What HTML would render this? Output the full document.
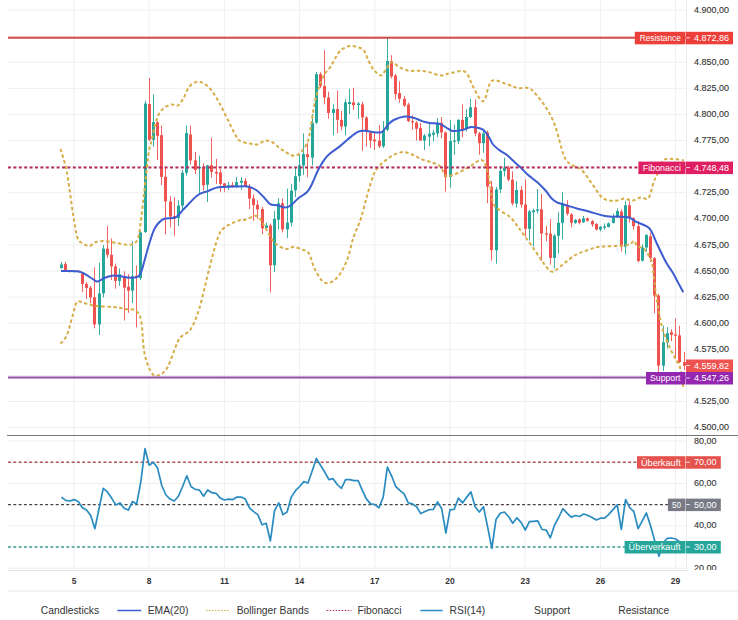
<!DOCTYPE html><html><head><meta charset="utf-8"><style>html,body{margin:0;padding:0;background:#fff;width:738px;height:620px;overflow:hidden}svg{display:block;font-family:"Liberation Sans",sans-serif}</style></head><body>
<svg width="738" height="620" viewBox="0 0 738 620">
<defs><clipPath id="pc"><rect x="8" y="0" width="678" height="435"/></clipPath><clipPath id="rc"><rect x="8" y="436" width="678" height="134"/></clipPath><clipPath id="rac"><rect x="686" y="436" width="52" height="134"/></clipPath></defs>
<line x1="74.0" y1="0" x2="74.0" y2="569" stroke="#efefef" stroke-width="1"/>
<line x1="149.2" y1="0" x2="149.2" y2="569" stroke="#efefef" stroke-width="1"/>
<line x1="224.4" y1="0" x2="224.4" y2="569" stroke="#efefef" stroke-width="1"/>
<line x1="299.6" y1="0" x2="299.6" y2="569" stroke="#efefef" stroke-width="1"/>
<line x1="374.8" y1="0" x2="374.8" y2="569" stroke="#efefef" stroke-width="1"/>
<line x1="450.0" y1="0" x2="450.0" y2="569" stroke="#efefef" stroke-width="1"/>
<line x1="525.2" y1="0" x2="525.2" y2="569" stroke="#efefef" stroke-width="1"/>
<line x1="600.4" y1="0" x2="600.4" y2="569" stroke="#efefef" stroke-width="1"/>
<line x1="675.6" y1="0" x2="675.6" y2="569" stroke="#efefef" stroke-width="1"/>
<line x1="8" y1="427.6" x2="686" y2="427.6" stroke="#efefef" stroke-width="1"/>
<line x1="8" y1="401.5" x2="686" y2="401.5" stroke="#efefef" stroke-width="1"/>
<line x1="8" y1="375.4" x2="686" y2="375.4" stroke="#efefef" stroke-width="1"/>
<line x1="8" y1="349.3" x2="686" y2="349.3" stroke="#efefef" stroke-width="1"/>
<line x1="8" y1="323.2" x2="686" y2="323.2" stroke="#efefef" stroke-width="1"/>
<line x1="8" y1="297.1" x2="686" y2="297.1" stroke="#efefef" stroke-width="1"/>
<line x1="8" y1="271.0" x2="686" y2="271.0" stroke="#efefef" stroke-width="1"/>
<line x1="8" y1="244.9" x2="686" y2="244.9" stroke="#efefef" stroke-width="1"/>
<line x1="8" y1="218.8" x2="686" y2="218.8" stroke="#efefef" stroke-width="1"/>
<line x1="8" y1="192.7" x2="686" y2="192.7" stroke="#efefef" stroke-width="1"/>
<line x1="8" y1="166.6" x2="686" y2="166.6" stroke="#efefef" stroke-width="1"/>
<line x1="8" y1="140.5" x2="686" y2="140.5" stroke="#efefef" stroke-width="1"/>
<line x1="8" y1="114.4" x2="686" y2="114.4" stroke="#efefef" stroke-width="1"/>
<line x1="8" y1="88.3" x2="686" y2="88.3" stroke="#efefef" stroke-width="1"/>
<line x1="8" y1="62.2" x2="686" y2="62.2" stroke="#efefef" stroke-width="1"/>
<line x1="8" y1="36.1" x2="686" y2="36.1" stroke="#efefef" stroke-width="1"/>
<line x1="8" y1="10.0" x2="686" y2="10.0" stroke="#efefef" stroke-width="1"/>
<line x1="8" y1="441.0" x2="686" y2="441.0" stroke="#efefef" stroke-width="1"/>
<line x1="8" y1="483.4" x2="686" y2="483.4" stroke="#efefef" stroke-width="1"/>
<line x1="8" y1="525.8" x2="686" y2="525.8" stroke="#efefef" stroke-width="1"/>
<line x1="8" y1="568.2" x2="686" y2="568.2" stroke="#efefef" stroke-width="1"/>
<line x1="686.5" y1="0" x2="686.5" y2="570" stroke="#ececec" stroke-width="1"/>
<line x1="7" y1="435.5" x2="738" y2="435.5" stroke="#777" stroke-width="1"/>
<line x1="8" y1="570.5" x2="688" y2="570.5" stroke="#e4e4e4" stroke-width="1"/>
<line x1="8" y1="591" x2="738" y2="591" stroke="#e4e4e4" stroke-width="1"/>
<g clip-path="url(#pc)">
<line x1="61.5" y1="262.0" x2="61.5" y2="268.5" stroke="#26a69a" stroke-width="1" opacity="0.9"/>
<rect x="60" y="264.5" width="3" height="3.6" fill="#26a69a"/>
<line x1="65.5" y1="261.7" x2="65.5" y2="270.5" stroke="#ef5350" stroke-width="1" opacity="0.9"/>
<rect x="64" y="264.1" width="3" height="6.1" fill="#ef5350"/>
<line x1="69.5" y1="270.0" x2="69.5" y2="272.5" stroke="#ef5350" stroke-width="1" opacity="0.9"/>
<rect x="68" y="270.5" width="3" height="1.5" fill="#ef5350"/>
<line x1="74.5" y1="270.5" x2="74.5" y2="272.5" stroke="#26a69a" stroke-width="1" opacity="0.9"/>
<rect x="73" y="270.8" width="3" height="1.2" fill="#26a69a"/>
<line x1="78.5" y1="270.5" x2="78.5" y2="272.5" stroke="#ef5350" stroke-width="1" opacity="0.9"/>
<rect x="77" y="270.8" width="3" height="1.2" fill="#ef5350"/>
<line x1="82.5" y1="273.0" x2="82.5" y2="292.0" stroke="#ef5350" stroke-width="1" opacity="0.9"/>
<rect x="81" y="273.4" width="3" height="10.5" fill="#ef5350"/>
<line x1="86.5" y1="282.0" x2="86.5" y2="299.0" stroke="#ef5350" stroke-width="1" opacity="0.9"/>
<rect x="85" y="283.9" width="3" height="4.0" fill="#ef5350"/>
<line x1="90.5" y1="286.0" x2="90.5" y2="303.2" stroke="#ef5350" stroke-width="1" opacity="0.9"/>
<rect x="89" y="287.7" width="3" height="9.7" fill="#ef5350"/>
<line x1="94.5" y1="267.4" x2="94.5" y2="328.3" stroke="#ef5350" stroke-width="1" opacity="0.9"/>
<rect x="93" y="297.4" width="3" height="27.0" fill="#ef5350"/>
<line x1="99.5" y1="262.6" x2="99.5" y2="335.1" stroke="#26a69a" stroke-width="1" opacity="0.9"/>
<rect x="98" y="293.5" width="3" height="30.9" fill="#26a69a"/>
<line x1="103.5" y1="245.1" x2="103.5" y2="297.4" stroke="#26a69a" stroke-width="1" opacity="0.9"/>
<rect x="102" y="248.6" width="3" height="44.9" fill="#26a69a"/>
<line x1="107.5" y1="225.8" x2="107.5" y2="257.7" stroke="#ef5350" stroke-width="1" opacity="0.9"/>
<rect x="106" y="248.6" width="3" height="6.2" fill="#ef5350"/>
<line x1="111.5" y1="238.4" x2="111.5" y2="280.0" stroke="#ef5350" stroke-width="1" opacity="0.9"/>
<rect x="110" y="254.8" width="3" height="11.6" fill="#ef5350"/>
<line x1="115.5" y1="263.5" x2="115.5" y2="288.7" stroke="#ef5350" stroke-width="1" opacity="0.9"/>
<rect x="114" y="266.4" width="3" height="14.5" fill="#ef5350"/>
<line x1="119.5" y1="268.4" x2="119.5" y2="285.8" stroke="#26a69a" stroke-width="1" opacity="0.9"/>
<rect x="118" y="274.2" width="3" height="6.7" fill="#26a69a"/>
<line x1="124.5" y1="271.3" x2="124.5" y2="320.6" stroke="#ef5350" stroke-width="1" opacity="0.9"/>
<rect x="123" y="276.1" width="3" height="11.6" fill="#ef5350"/>
<line x1="128.5" y1="274.2" x2="128.5" y2="312.8" stroke="#ef5350" stroke-width="1" opacity="0.9"/>
<rect x="127" y="286.7" width="3" height="3.9" fill="#ef5350"/>
<line x1="132.5" y1="241.3" x2="132.5" y2="303.2" stroke="#26a69a" stroke-width="1" opacity="0.9"/>
<rect x="131" y="276.1" width="3" height="14.5" fill="#26a69a"/>
<line x1="136.5" y1="265.5" x2="136.5" y2="327.4" stroke="#ef5350" stroke-width="1" opacity="0.9"/>
<rect x="135" y="275.7" width="3" height="2.3" fill="#ef5350"/>
<line x1="140.5" y1="231.0" x2="140.5" y2="280.0" stroke="#26a69a" stroke-width="1" opacity="0.9"/>
<rect x="139" y="232.4" width="3" height="45.6" fill="#26a69a"/>
<line x1="145.5" y1="100.8" x2="145.5" y2="233.0" stroke="#26a69a" stroke-width="1" opacity="0.9"/>
<rect x="144" y="103.5" width="3" height="128.5" fill="#26a69a"/>
<line x1="149.5" y1="78.0" x2="149.5" y2="141.0" stroke="#ef5350" stroke-width="1" opacity="0.9"/>
<rect x="148" y="104.0" width="3" height="35.8" fill="#ef5350"/>
<line x1="153.5" y1="94.5" x2="153.5" y2="146.7" stroke="#26a69a" stroke-width="1" opacity="0.9"/>
<rect x="152" y="122.0" width="3" height="17.8" fill="#26a69a"/>
<line x1="157.5" y1="121.0" x2="157.5" y2="160.0" stroke="#ef5350" stroke-width="1" opacity="0.9"/>
<rect x="156" y="122.3" width="3" height="13.5" fill="#ef5350"/>
<line x1="161.5" y1="125.5" x2="161.5" y2="185.0" stroke="#ef5350" stroke-width="1" opacity="0.9"/>
<rect x="160" y="135.2" width="3" height="41.6" fill="#ef5350"/>
<line x1="165.5" y1="168.0" x2="165.5" y2="234.4" stroke="#ef5350" stroke-width="1" opacity="0.9"/>
<rect x="164" y="176.8" width="3" height="24.7" fill="#ef5350"/>
<line x1="170.5" y1="196.0" x2="170.5" y2="227.5" stroke="#ef5350" stroke-width="1" opacity="0.9"/>
<rect x="169" y="201.5" width="3" height="15.1" fill="#ef5350"/>
<line x1="174.5" y1="197.4" x2="174.5" y2="235.8" stroke="#ef5350" stroke-width="1" opacity="0.9"/>
<rect x="173" y="216.0" width="3" height="2.5" fill="#ef5350"/>
<line x1="178.5" y1="200.0" x2="178.5" y2="226.0" stroke="#26a69a" stroke-width="1" opacity="0.9"/>
<rect x="177" y="205.6" width="3" height="12.4" fill="#26a69a"/>
<line x1="182.5" y1="170.0" x2="182.5" y2="209.7" stroke="#26a69a" stroke-width="1" opacity="0.9"/>
<rect x="181" y="172.7" width="3" height="32.9" fill="#26a69a"/>
<line x1="186.5" y1="125.5" x2="186.5" y2="175.5" stroke="#26a69a" stroke-width="1" opacity="0.9"/>
<rect x="185" y="133.0" width="3" height="39.7" fill="#26a69a"/>
<line x1="190.5" y1="125.5" x2="190.5" y2="164.5" stroke="#ef5350" stroke-width="1" opacity="0.9"/>
<rect x="189" y="134.4" width="3" height="26.0" fill="#ef5350"/>
<line x1="195.5" y1="152.0" x2="195.5" y2="174.0" stroke="#ef5350" stroke-width="1" opacity="0.9"/>
<rect x="194" y="160.4" width="3" height="9.6" fill="#ef5350"/>
<line x1="199.5" y1="155.6" x2="199.5" y2="193.7" stroke="#26a69a" stroke-width="1" opacity="0.9"/>
<rect x="198" y="167.0" width="3" height="1.5" fill="#26a69a"/>
<line x1="203.5" y1="163.4" x2="203.5" y2="190.5" stroke="#ef5350" stroke-width="1" opacity="0.9"/>
<rect x="202" y="167.3" width="3" height="18.0" fill="#ef5350"/>
<line x1="207.5" y1="165.0" x2="207.5" y2="202.1" stroke="#26a69a" stroke-width="1" opacity="0.9"/>
<rect x="206" y="165.3" width="3" height="19.4" fill="#26a69a"/>
<line x1="211.5" y1="137.6" x2="211.5" y2="177.6" stroke="#ef5350" stroke-width="1" opacity="0.9"/>
<rect x="210" y="165.3" width="3" height="6.5" fill="#ef5350"/>
<line x1="216.5" y1="158.9" x2="216.5" y2="184.0" stroke="#ef5350" stroke-width="1" opacity="0.9"/>
<rect x="215" y="171.8" width="3" height="1.7" fill="#ef5350"/>
<line x1="220.5" y1="169.2" x2="220.5" y2="191.8" stroke="#ef5350" stroke-width="1" opacity="0.9"/>
<rect x="219" y="172.4" width="3" height="11.6" fill="#ef5350"/>
<line x1="224.5" y1="183.0" x2="224.5" y2="191.8" stroke="#ef5350" stroke-width="1" opacity="0.9"/>
<rect x="223" y="183.4" width="3" height="2.6" fill="#ef5350"/>
<line x1="228.5" y1="182.0" x2="228.5" y2="190.0" stroke="#26a69a" stroke-width="1" opacity="0.9"/>
<rect x="227" y="185.3" width="3" height="2.0" fill="#26a69a"/>
<line x1="232.5" y1="182.0" x2="232.5" y2="187.5" stroke="#ef5350" stroke-width="1" opacity="0.9"/>
<rect x="231" y="185.0" width="3" height="1.6" fill="#ef5350"/>
<line x1="236.5" y1="177.0" x2="236.5" y2="187.9" stroke="#26a69a" stroke-width="1" opacity="0.9"/>
<rect x="235" y="182.1" width="3" height="3.9" fill="#26a69a"/>
<line x1="241.5" y1="177.0" x2="241.5" y2="189.8" stroke="#26a69a" stroke-width="1" opacity="0.9"/>
<rect x="240" y="180.8" width="3" height="1.9" fill="#26a69a"/>
<line x1="245.5" y1="178.2" x2="245.5" y2="187.0" stroke="#ef5350" stroke-width="1" opacity="0.9"/>
<rect x="244" y="180.8" width="3" height="5.2" fill="#ef5350"/>
<line x1="249.5" y1="184.0" x2="249.5" y2="209.0" stroke="#ef5350" stroke-width="1" opacity="0.9"/>
<rect x="248" y="186.6" width="3" height="12.0" fill="#ef5350"/>
<line x1="253.5" y1="194.5" x2="253.5" y2="220.7" stroke="#ef5350" stroke-width="1" opacity="0.9"/>
<rect x="252" y="198.3" width="3" height="6.9" fill="#ef5350"/>
<line x1="257.5" y1="200.3" x2="257.5" y2="218.8" stroke="#ef5350" stroke-width="1" opacity="0.9"/>
<rect x="256" y="204.8" width="3" height="4.6" fill="#ef5350"/>
<line x1="262.5" y1="207.0" x2="262.5" y2="234.3" stroke="#ef5350" stroke-width="1" opacity="0.9"/>
<rect x="261" y="209.1" width="3" height="19.3" fill="#ef5350"/>
<line x1="266.5" y1="222.6" x2="266.5" y2="229.4" stroke="#26a69a" stroke-width="1" opacity="0.9"/>
<rect x="265" y="225.5" width="3" height="2.5" fill="#26a69a"/>
<line x1="270.5" y1="223.6" x2="270.5" y2="292.4" stroke="#ef5350" stroke-width="1" opacity="0.9"/>
<rect x="269" y="225.5" width="3" height="39.8" fill="#ef5350"/>
<line x1="274.5" y1="211.0" x2="274.5" y2="272.0" stroke="#26a69a" stroke-width="1" opacity="0.9"/>
<rect x="273" y="218.8" width="3" height="46.5" fill="#26a69a"/>
<line x1="278.5" y1="198.4" x2="278.5" y2="229.4" stroke="#26a69a" stroke-width="1" opacity="0.9"/>
<rect x="277" y="203.3" width="3" height="16.4" fill="#26a69a"/>
<line x1="282.5" y1="198.4" x2="282.5" y2="232.3" stroke="#ef5350" stroke-width="1" opacity="0.9"/>
<rect x="281" y="203.3" width="3" height="26.1" fill="#ef5350"/>
<line x1="287.5" y1="188.7" x2="287.5" y2="238.1" stroke="#26a69a" stroke-width="1" opacity="0.9"/>
<rect x="286" y="222.6" width="3" height="6.8" fill="#26a69a"/>
<line x1="291.5" y1="183.9" x2="291.5" y2="226.5" stroke="#26a69a" stroke-width="1" opacity="0.9"/>
<rect x="290" y="190.7" width="3" height="31.9" fill="#26a69a"/>
<line x1="295.5" y1="167.7" x2="295.5" y2="197.1" stroke="#26a69a" stroke-width="1" opacity="0.9"/>
<rect x="294" y="176.2" width="3" height="14.1" fill="#26a69a"/>
<line x1="299.5" y1="154.2" x2="299.5" y2="181.8" stroke="#26a69a" stroke-width="1" opacity="0.9"/>
<rect x="298" y="165.2" width="3" height="11.0" fill="#26a69a"/>
<line x1="303.5" y1="133.3" x2="303.5" y2="175.1" stroke="#26a69a" stroke-width="1" opacity="0.9"/>
<rect x="302" y="154.0" width="3" height="11.5" fill="#26a69a"/>
<line x1="307.5" y1="143.0" x2="307.5" y2="177.3" stroke="#ef5350" stroke-width="1" opacity="0.9"/>
<rect x="306" y="154.2" width="3" height="2.8" fill="#ef5350"/>
<line x1="312.5" y1="114.0" x2="312.5" y2="165.5" stroke="#26a69a" stroke-width="1" opacity="0.9"/>
<rect x="311" y="122.7" width="3" height="34.9" fill="#26a69a"/>
<line x1="316.5" y1="72.0" x2="316.5" y2="124.0" stroke="#26a69a" stroke-width="1" opacity="0.9"/>
<rect x="315" y="74.2" width="3" height="48.5" fill="#26a69a"/>
<line x1="320.5" y1="72.3" x2="320.5" y2="88.0" stroke="#ef5350" stroke-width="1" opacity="0.9"/>
<rect x="319" y="74.2" width="3" height="11.7" fill="#ef5350"/>
<line x1="324.5" y1="50.0" x2="324.5" y2="104.3" stroke="#ef5350" stroke-width="1" opacity="0.9"/>
<rect x="323" y="85.9" width="3" height="11.6" fill="#ef5350"/>
<line x1="328.5" y1="91.7" x2="328.5" y2="118.8" stroke="#ef5350" stroke-width="1" opacity="0.9"/>
<rect x="327" y="97.5" width="3" height="15.5" fill="#ef5350"/>
<line x1="333.5" y1="104.3" x2="333.5" y2="135.3" stroke="#26a69a" stroke-width="1" opacity="0.9"/>
<rect x="332" y="109.1" width="3" height="3.9" fill="#26a69a"/>
<line x1="337.5" y1="90.7" x2="337.5" y2="133.3" stroke="#ef5350" stroke-width="1" opacity="0.9"/>
<rect x="336" y="109.1" width="3" height="10.7" fill="#ef5350"/>
<line x1="341.5" y1="111.0" x2="341.5" y2="130.0" stroke="#ef5350" stroke-width="1" opacity="0.9"/>
<rect x="340" y="119.8" width="3" height="6.7" fill="#ef5350"/>
<line x1="345.5" y1="99.4" x2="345.5" y2="135.3" stroke="#26a69a" stroke-width="1" opacity="0.9"/>
<rect x="344" y="102.3" width="3" height="24.2" fill="#26a69a"/>
<line x1="349.5" y1="88.8" x2="349.5" y2="114.0" stroke="#26a69a" stroke-width="1" opacity="0.9"/>
<rect x="348" y="102.0" width="3" height="2.0" fill="#26a69a"/>
<line x1="353.5" y1="87.8" x2="353.5" y2="110.0" stroke="#ef5350" stroke-width="1" opacity="0.9"/>
<rect x="352" y="102.3" width="3" height="2.9" fill="#ef5350"/>
<line x1="358.5" y1="102.0" x2="358.5" y2="118.8" stroke="#26a69a" stroke-width="1" opacity="0.9"/>
<rect x="357" y="103.5" width="3" height="1.5" fill="#26a69a"/>
<line x1="362.5" y1="101.7" x2="362.5" y2="150.8" stroke="#ef5350" stroke-width="1" opacity="0.9"/>
<rect x="361" y="104.4" width="3" height="13.1" fill="#ef5350"/>
<line x1="366.5" y1="116.0" x2="366.5" y2="146.5" stroke="#ef5350" stroke-width="1" opacity="0.9"/>
<rect x="365" y="117.5" width="3" height="14.0" fill="#ef5350"/>
<line x1="370.5" y1="131.0" x2="370.5" y2="148.0" stroke="#ef5350" stroke-width="1" opacity="0.9"/>
<rect x="369" y="132.7" width="3" height="7.8" fill="#ef5350"/>
<line x1="374.5" y1="132.7" x2="374.5" y2="150.0" stroke="#ef5350" stroke-width="1" opacity="0.9"/>
<rect x="373" y="139.5" width="3" height="1.9" fill="#ef5350"/>
<line x1="379.5" y1="125.0" x2="379.5" y2="148.0" stroke="#ef5350" stroke-width="1" opacity="0.9"/>
<rect x="378" y="140.5" width="3" height="5.8" fill="#ef5350"/>
<line x1="383.5" y1="121.1" x2="383.5" y2="148.0" stroke="#26a69a" stroke-width="1" opacity="0.9"/>
<rect x="382" y="130.8" width="3" height="15.5" fill="#26a69a"/>
<line x1="387.5" y1="37.8" x2="387.5" y2="131.0" stroke="#26a69a" stroke-width="1" opacity="0.9"/>
<rect x="386" y="61.0" width="3" height="68.8" fill="#26a69a"/>
<line x1="391.5" y1="55.2" x2="391.5" y2="78.5" stroke="#ef5350" stroke-width="1" opacity="0.9"/>
<rect x="390" y="61.0" width="3" height="15.5" fill="#ef5350"/>
<line x1="395.5" y1="74.0" x2="395.5" y2="99.8" stroke="#ef5350" stroke-width="1" opacity="0.9"/>
<rect x="394" y="75.5" width="3" height="18.5" fill="#ef5350"/>
<line x1="399.5" y1="81.4" x2="399.5" y2="102.7" stroke="#ef5350" stroke-width="1" opacity="0.9"/>
<rect x="398" y="93.0" width="3" height="5.8" fill="#ef5350"/>
<line x1="404.5" y1="95.9" x2="404.5" y2="107.0" stroke="#ef5350" stroke-width="1" opacity="0.9"/>
<rect x="403" y="98.8" width="3" height="6.8" fill="#ef5350"/>
<line x1="408.5" y1="102.7" x2="408.5" y2="122.0" stroke="#ef5350" stroke-width="1" opacity="0.9"/>
<rect x="407" y="104.6" width="3" height="16.5" fill="#ef5350"/>
<line x1="412.5" y1="115.3" x2="412.5" y2="129.8" stroke="#ef5350" stroke-width="1" opacity="0.9"/>
<rect x="411" y="121.1" width="3" height="1.2" fill="#ef5350"/>
<line x1="416.5" y1="121.0" x2="416.5" y2="140.5" stroke="#ef5350" stroke-width="1" opacity="0.9"/>
<rect x="415" y="122.6" width="3" height="6.2" fill="#ef5350"/>
<line x1="420.5" y1="123.0" x2="420.5" y2="141.0" stroke="#ef5350" stroke-width="1" opacity="0.9"/>
<rect x="419" y="127.9" width="3" height="12.6" fill="#ef5350"/>
<line x1="424.5" y1="134.0" x2="424.5" y2="150.0" stroke="#26a69a" stroke-width="1" opacity="0.9"/>
<rect x="423" y="135.6" width="3" height="4.9" fill="#26a69a"/>
<line x1="429.5" y1="123.0" x2="429.5" y2="146.3" stroke="#26a69a" stroke-width="1" opacity="0.9"/>
<rect x="428" y="133.7" width="3" height="2.9" fill="#26a69a"/>
<line x1="433.5" y1="129.8" x2="433.5" y2="141.4" stroke="#26a69a" stroke-width="1" opacity="0.9"/>
<rect x="432" y="132.7" width="3" height="2.0" fill="#26a69a"/>
<line x1="437.5" y1="118.2" x2="437.5" y2="137.3" stroke="#26a69a" stroke-width="1" opacity="0.9"/>
<rect x="436" y="122.8" width="3" height="10.6" fill="#26a69a"/>
<line x1="441.5" y1="117.0" x2="441.5" y2="138.3" stroke="#ef5350" stroke-width="1" opacity="0.9"/>
<rect x="440" y="122.8" width="3" height="9.7" fill="#ef5350"/>
<line x1="445.5" y1="131.5" x2="445.5" y2="191.6" stroke="#ef5350" stroke-width="1" opacity="0.9"/>
<rect x="444" y="132.5" width="3" height="44.5" fill="#ef5350"/>
<line x1="450.5" y1="119.9" x2="450.5" y2="187.7" stroke="#26a69a" stroke-width="1" opacity="0.9"/>
<rect x="449" y="141.2" width="3" height="35.8" fill="#26a69a"/>
<line x1="454.5" y1="124.7" x2="454.5" y2="154.8" stroke="#26a69a" stroke-width="1" opacity="0.9"/>
<rect x="453" y="140.5" width="3" height="1.2" fill="#26a69a"/>
<line x1="458.5" y1="119.0" x2="458.5" y2="144.1" stroke="#26a69a" stroke-width="1" opacity="0.9"/>
<rect x="457" y="119.9" width="3" height="21.3" fill="#26a69a"/>
<line x1="462.5" y1="104.4" x2="462.5" y2="137.3" stroke="#ef5350" stroke-width="1" opacity="0.9"/>
<rect x="461" y="119.9" width="3" height="10.6" fill="#ef5350"/>
<line x1="466.5" y1="109.2" x2="466.5" y2="131.5" stroke="#26a69a" stroke-width="1" opacity="0.9"/>
<rect x="465" y="117.0" width="3" height="11.6" fill="#26a69a"/>
<line x1="470.5" y1="98.6" x2="470.5" y2="118.0" stroke="#26a69a" stroke-width="1" opacity="0.9"/>
<rect x="469" y="107.3" width="3" height="9.7" fill="#26a69a"/>
<line x1="475.5" y1="99.5" x2="475.5" y2="136.0" stroke="#ef5350" stroke-width="1" opacity="0.9"/>
<rect x="474" y="107.3" width="3" height="26.1" fill="#ef5350"/>
<line x1="479.5" y1="132.0" x2="479.5" y2="154.8" stroke="#ef5350" stroke-width="1" opacity="0.9"/>
<rect x="478" y="133.4" width="3" height="9.7" fill="#ef5350"/>
<line x1="483.5" y1="129.6" x2="483.5" y2="152.8" stroke="#26a69a" stroke-width="1" opacity="0.9"/>
<rect x="482" y="133.4" width="3" height="9.7" fill="#26a69a"/>
<line x1="487.5" y1="130.5" x2="487.5" y2="203.2" stroke="#ef5350" stroke-width="1" opacity="0.9"/>
<rect x="486" y="132.5" width="3" height="54.2" fill="#ef5350"/>
<line x1="491.5" y1="180.9" x2="491.5" y2="260.8" stroke="#ef5350" stroke-width="1" opacity="0.9"/>
<rect x="490" y="186.7" width="3" height="63.4" fill="#ef5350"/>
<line x1="496.5" y1="187.0" x2="496.5" y2="263.7" stroke="#26a69a" stroke-width="1" opacity="0.9"/>
<rect x="495" y="189.4" width="3" height="60.7" fill="#26a69a"/>
<line x1="500.5" y1="165.8" x2="500.5" y2="193.0" stroke="#26a69a" stroke-width="1" opacity="0.9"/>
<rect x="499" y="170.9" width="3" height="18.5" fill="#26a69a"/>
<line x1="504.5" y1="157.7" x2="504.5" y2="176.5" stroke="#26a69a" stroke-width="1" opacity="0.9"/>
<rect x="503" y="167.6" width="3" height="3.3" fill="#26a69a"/>
<line x1="508.5" y1="165.8" x2="508.5" y2="181.3" stroke="#ef5350" stroke-width="1" opacity="0.9"/>
<rect x="507" y="167.6" width="3" height="12.1" fill="#ef5350"/>
<line x1="512.5" y1="171.4" x2="512.5" y2="205.5" stroke="#ef5350" stroke-width="1" opacity="0.9"/>
<rect x="511" y="179.7" width="3" height="23.7" fill="#ef5350"/>
<line x1="516.5" y1="181.3" x2="516.5" y2="207.5" stroke="#26a69a" stroke-width="1" opacity="0.9"/>
<rect x="515" y="190.0" width="3" height="13.6" fill="#26a69a"/>
<line x1="521.5" y1="186.2" x2="521.5" y2="207.5" stroke="#ef5350" stroke-width="1" opacity="0.9"/>
<rect x="520" y="190.0" width="3" height="14.6" fill="#ef5350"/>
<line x1="525.5" y1="179.4" x2="525.5" y2="236.6" stroke="#ef5350" stroke-width="1" opacity="0.9"/>
<rect x="524" y="204.6" width="3" height="24.2" fill="#ef5350"/>
<line x1="529.5" y1="210.0" x2="529.5" y2="240.4" stroke="#26a69a" stroke-width="1" opacity="0.9"/>
<rect x="528" y="211.4" width="3" height="17.4" fill="#26a69a"/>
<line x1="533.5" y1="208.5" x2="533.5" y2="246.2" stroke="#26a69a" stroke-width="1" opacity="0.9"/>
<rect x="532" y="210.4" width="3" height="1.9" fill="#26a69a"/>
<line x1="537.5" y1="189.1" x2="537.5" y2="213.6" stroke="#26a69a" stroke-width="1" opacity="0.9"/>
<rect x="536" y="209.4" width="3" height="1.4" fill="#26a69a"/>
<line x1="541.5" y1="193.9" x2="541.5" y2="260.8" stroke="#ef5350" stroke-width="1" opacity="0.9"/>
<rect x="540" y="209.4" width="3" height="24.2" fill="#ef5350"/>
<line x1="546.5" y1="225.9" x2="546.5" y2="241.4" stroke="#ef5350" stroke-width="1" opacity="0.9"/>
<rect x="545" y="233.3" width="3" height="1.3" fill="#ef5350"/>
<line x1="550.5" y1="219.1" x2="550.5" y2="264.7" stroke="#ef5350" stroke-width="1" opacity="0.9"/>
<rect x="549" y="233.6" width="3" height="24.3" fill="#ef5350"/>
<line x1="554.5" y1="234.0" x2="554.5" y2="268.5" stroke="#26a69a" stroke-width="1" opacity="0.9"/>
<rect x="553" y="235.6" width="3" height="22.3" fill="#26a69a"/>
<line x1="558.5" y1="212.2" x2="558.5" y2="253.5" stroke="#26a69a" stroke-width="1" opacity="0.9"/>
<rect x="557" y="222.8" width="3" height="12.9" fill="#26a69a"/>
<line x1="562.5" y1="192.2" x2="562.5" y2="239.4" stroke="#26a69a" stroke-width="1" opacity="0.9"/>
<rect x="561" y="203.3" width="3" height="19.6" fill="#26a69a"/>
<line x1="567.5" y1="200.2" x2="567.5" y2="215.5" stroke="#ef5350" stroke-width="1" opacity="0.9"/>
<rect x="566" y="204.8" width="3" height="9.0" fill="#ef5350"/>
<line x1="571.5" y1="213.0" x2="571.5" y2="227.3" stroke="#ef5350" stroke-width="1" opacity="0.9"/>
<rect x="570" y="214.4" width="3" height="8.4" fill="#ef5350"/>
<line x1="575.5" y1="219.0" x2="575.5" y2="224.0" stroke="#26a69a" stroke-width="1" opacity="0.9"/>
<rect x="574" y="220.0" width="3" height="2.8" fill="#26a69a"/>
<line x1="579.5" y1="218.5" x2="579.5" y2="224.5" stroke="#ef5350" stroke-width="1" opacity="0.9"/>
<rect x="578" y="219.4" width="3" height="3.4" fill="#ef5350"/>
<line x1="583.5" y1="216.0" x2="583.5" y2="223.0" stroke="#26a69a" stroke-width="1" opacity="0.9"/>
<rect x="582" y="218.3" width="3" height="4.0" fill="#26a69a"/>
<line x1="587.5" y1="217.5" x2="587.5" y2="221.5" stroke="#ef5350" stroke-width="1" opacity="0.9"/>
<rect x="586" y="218.3" width="3" height="2.6" fill="#ef5350"/>
<line x1="592.5" y1="220.0" x2="592.5" y2="226.8" stroke="#ef5350" stroke-width="1" opacity="0.9"/>
<rect x="591" y="221.1" width="3" height="3.4" fill="#ef5350"/>
<line x1="596.5" y1="223.0" x2="596.5" y2="230.5" stroke="#ef5350" stroke-width="1" opacity="0.9"/>
<rect x="595" y="224.0" width="3" height="5.6" fill="#ef5350"/>
<line x1="600.5" y1="226.0" x2="600.5" y2="231.3" stroke="#26a69a" stroke-width="1" opacity="0.9"/>
<rect x="599" y="226.8" width="3" height="2.8" fill="#26a69a"/>
<line x1="604.5" y1="223.5" x2="604.5" y2="229.6" stroke="#26a69a" stroke-width="1" opacity="0.9"/>
<rect x="603" y="226.5" width="3" height="1.3" fill="#26a69a"/>
<line x1="608.5" y1="222.5" x2="608.5" y2="227.5" stroke="#26a69a" stroke-width="1" opacity="0.9"/>
<rect x="607" y="223.3" width="3" height="3.6" fill="#26a69a"/>
<line x1="613.5" y1="213.8" x2="613.5" y2="223.5" stroke="#26a69a" stroke-width="1" opacity="0.9"/>
<rect x="612" y="217.6" width="3" height="5.4" fill="#26a69a"/>
<line x1="617.5" y1="208.4" x2="617.5" y2="218.0" stroke="#26a69a" stroke-width="1" opacity="0.9"/>
<rect x="616" y="211.0" width="3" height="6.6" fill="#26a69a"/>
<line x1="621.5" y1="209.5" x2="621.5" y2="251.6" stroke="#ef5350" stroke-width="1" opacity="0.9"/>
<rect x="620" y="211.6" width="3" height="35.2" fill="#ef5350"/>
<line x1="625.5" y1="200.8" x2="625.5" y2="254.5" stroke="#26a69a" stroke-width="1" opacity="0.9"/>
<rect x="624" y="205.2" width="3" height="41.3" fill="#26a69a"/>
<line x1="629.5" y1="201.5" x2="629.5" y2="222.6" stroke="#ef5350" stroke-width="1" opacity="0.9"/>
<rect x="628" y="205.2" width="3" height="12.3" fill="#ef5350"/>
<line x1="633.5" y1="217.0" x2="633.5" y2="229.8" stroke="#ef5350" stroke-width="1" opacity="0.9"/>
<rect x="632" y="218.2" width="3" height="8.0" fill="#ef5350"/>
<line x1="638.5" y1="221.0" x2="638.5" y2="262.5" stroke="#ef5350" stroke-width="1" opacity="0.9"/>
<rect x="637" y="226.2" width="3" height="34.8" fill="#ef5350"/>
<line x1="642.5" y1="244.3" x2="642.5" y2="261.5" stroke="#26a69a" stroke-width="1" opacity="0.9"/>
<rect x="641" y="247.5" width="3" height="13.2" fill="#26a69a"/>
<line x1="646.5" y1="234.0" x2="646.5" y2="251.6" stroke="#26a69a" stroke-width="1" opacity="0.9"/>
<rect x="645" y="235.1" width="3" height="12.4" fill="#26a69a"/>
<line x1="650.5" y1="232.7" x2="650.5" y2="261.8" stroke="#ef5350" stroke-width="1" opacity="0.9"/>
<rect x="649" y="236.3" width="3" height="21.6" fill="#ef5350"/>
<line x1="654.5" y1="257.0" x2="654.5" y2="313.4" stroke="#ef5350" stroke-width="1" opacity="0.9"/>
<rect x="653" y="258.2" width="3" height="37.3" fill="#ef5350"/>
<line x1="658.5" y1="294.0" x2="658.5" y2="371.9" stroke="#ef5350" stroke-width="1" opacity="0.9"/>
<rect x="657" y="295.5" width="3" height="70.2" fill="#ef5350"/>
<line x1="663.5" y1="325.6" x2="663.5" y2="371.0" stroke="#26a69a" stroke-width="1" opacity="0.9"/>
<rect x="662" y="342.3" width="3" height="23.4" fill="#26a69a"/>
<line x1="667.5" y1="327.1" x2="667.5" y2="348.5" stroke="#26a69a" stroke-width="1" opacity="0.9"/>
<rect x="666" y="333.3" width="3" height="9.2" fill="#26a69a"/>
<line x1="671.5" y1="329.2" x2="671.5" y2="341.0" stroke="#ef5350" stroke-width="1" opacity="0.9"/>
<rect x="670" y="332.2" width="3" height="2.7" fill="#ef5350"/>
<line x1="675.5" y1="318.4" x2="675.5" y2="358.5" stroke="#ef5350" stroke-width="1" opacity="0.9"/>
<rect x="674" y="334.3" width="3" height="1.4" fill="#ef5350"/>
<line x1="679.5" y1="325.8" x2="679.5" y2="363.0" stroke="#ef5350" stroke-width="1" opacity="0.9"/>
<rect x="678" y="335.4" width="3" height="26.8" fill="#ef5350"/>
<line x1="684.5" y1="352.0" x2="684.5" y2="370.0" stroke="#ef5350" stroke-width="1" opacity="0.9"/>
<rect x="683" y="362.2" width="3" height="3.5" fill="#ef5350"/>
<path d="M60.50,148.90 C61.55,152.73 64.72,161.08 66.80,171.90 C68.88,182.72 71.27,202.98 73.00,213.80 C74.73,224.62 75.70,231.93 77.20,236.80 C78.70,241.67 79.90,241.47 82.00,243.00 C84.10,244.53 87.68,246.08 89.80,246.00 C91.92,245.92 92.60,243.33 94.70,242.50 C96.80,241.67 99.50,241.05 102.40,241.00 C105.30,240.95 108.87,241.70 112.10,242.20 C115.33,242.70 118.58,243.62 121.80,244.00 C125.02,244.38 128.70,245.50 131.40,244.50 C134.10,243.50 136.20,243.82 138.00,238.00 C139.80,232.18 140.47,223.42 142.20,209.60 C143.93,195.78 146.87,166.43 148.40,155.10 C149.93,143.77 150.27,146.70 151.40,141.60 C152.53,136.50 153.93,129.08 155.20,124.50 C156.47,119.92 157.42,116.95 159.00,114.10 C160.58,111.25 162.48,108.98 164.70,107.40 C166.92,105.82 170.08,104.92 172.30,104.60 C174.52,104.28 176.12,106.60 178.00,105.50 C179.88,104.40 181.72,101.15 183.60,98.00 C185.48,94.85 187.08,89.30 189.30,86.60 C191.52,83.90 194.37,82.28 196.90,81.80 C199.43,81.32 201.97,82.12 204.50,83.70 C207.03,85.28 209.57,87.98 212.10,91.30 C214.63,94.62 217.17,99.02 219.70,103.60 C222.23,108.18 224.77,113.73 227.30,118.80 C229.83,123.87 232.78,130.30 234.90,134.00 C237.02,137.70 237.47,139.42 240.00,141.00 C242.53,142.58 247.17,142.93 250.10,143.50 C253.03,144.07 255.08,144.88 257.60,144.40 C260.12,143.92 262.67,140.92 265.20,140.60 C267.73,140.28 270.33,141.18 272.80,142.50 C275.27,143.82 277.87,146.93 280.00,148.50 C282.13,150.07 283.72,150.77 285.60,151.90 C287.48,153.03 289.42,154.73 291.30,155.30 C293.18,155.87 295.22,155.95 296.90,155.30 C298.58,154.65 299.88,153.08 301.40,151.40 C302.92,149.72 304.67,147.88 306.00,145.20 C307.33,142.52 307.87,142.77 309.40,135.30 C310.93,127.83 312.93,110.10 315.20,100.40 C317.47,90.70 320.42,82.75 323.00,77.10 C325.58,71.45 328.13,70.53 330.70,66.50 C333.27,62.47 336.13,55.98 338.40,52.90 C340.67,49.82 342.37,49.15 344.30,48.00 C346.23,46.85 347.88,46.17 350.00,46.00 C352.12,45.83 354.73,46.33 357.00,47.00 C359.27,47.67 361.80,47.98 363.60,50.00 C365.40,52.02 366.13,55.82 367.80,59.10 C369.47,62.38 371.35,66.97 373.60,69.70 C375.85,72.43 379.20,75.65 381.30,75.50 C383.40,75.35 384.42,71.05 386.20,68.80 C387.98,66.55 389.90,62.33 392.00,62.00 C394.10,61.67 396.07,65.35 398.80,66.80 C401.53,68.25 405.18,70.05 408.40,70.70 C411.62,71.35 414.87,70.53 418.10,70.70 C421.33,70.87 424.05,70.92 427.80,71.70 C431.55,72.48 436.72,75.20 440.60,75.40 C444.48,75.60 447.00,73.50 451.10,72.90 C455.20,72.30 461.67,69.75 465.20,71.80 C468.73,73.85 469.95,80.83 472.30,85.20 C474.65,89.57 477.25,95.53 479.30,98.00 C481.35,100.47 482.53,102.83 484.60,100.00 C486.67,97.17 487.88,83.58 491.70,81.00 C495.52,78.42 503.10,83.32 507.50,84.50 C511.90,85.68 514.57,87.50 518.10,88.10 C521.63,88.70 525.77,87.12 528.70,88.10 C531.63,89.08 532.77,90.67 535.70,94.00 C538.63,97.33 543.07,102.80 546.30,108.10 C549.53,113.40 552.17,117.87 555.10,125.80 C558.03,133.73 561.27,149.25 563.90,155.70 C566.53,162.15 567.97,162.15 570.90,164.50 C573.83,166.85 577.97,166.57 581.50,169.80 C585.03,173.03 588.57,179.20 592.10,183.90 C595.63,188.60 598.97,195.18 602.70,198.00 C606.43,200.82 610.83,200.70 614.50,200.80 C618.17,200.90 621.78,198.60 624.70,198.60 C627.62,198.60 629.35,200.98 632.00,200.80 C634.65,200.62 637.85,197.97 640.60,197.50 C643.35,197.03 646.32,200.58 648.50,198.00 C650.68,195.42 652.28,185.83 653.70,182.00 C655.12,178.17 655.52,178.50 657.00,175.00 C658.48,171.50 660.60,163.67 662.60,161.00 C664.60,158.33 666.65,159.30 669.00,159.00 C671.35,158.70 674.20,158.95 676.70,159.20 C679.20,159.45 682.78,160.28 684.00,160.50" fill="none" stroke="#d6ae48" stroke-width="2" stroke-dasharray="3.4 2.5"/>
<path d="M60.50,343.70 C61.55,342.30 64.72,340.20 66.80,335.30 C68.88,330.40 71.27,319.88 73.00,314.30 C74.73,308.72 75.23,303.65 77.20,301.80 C79.17,299.95 81.57,302.48 84.80,303.20 C88.03,303.92 91.73,305.47 96.60,306.10 C101.47,306.73 109.17,306.52 114.00,307.00 C118.83,307.48 122.05,308.42 125.60,309.00 C129.15,309.58 132.72,308.57 135.30,310.50 C137.88,312.43 139.60,313.68 141.10,320.60 C142.60,327.52 142.73,343.62 144.30,352.00 C145.87,360.38 148.40,366.93 150.50,370.90 C152.60,374.87 154.13,376.28 156.90,375.80 C159.67,375.32 163.70,373.53 167.10,368.00 C170.50,362.47 174.77,347.97 177.30,342.60 C179.83,337.23 180.05,338.07 182.30,335.80 C184.55,333.53 187.97,333.52 190.80,329.00 C193.63,324.48 196.20,318.85 199.30,308.70 C202.40,298.55 206.30,279.95 209.40,268.10 C212.50,256.25 215.35,244.38 217.90,237.60 C220.45,230.82 221.32,230.22 224.70,227.40 C228.08,224.58 234.82,221.98 238.20,220.70 C241.58,219.42 241.93,220.50 245.00,219.70 C248.07,218.90 253.70,215.42 256.60,215.90 C259.50,216.38 259.50,218.25 262.40,222.60 C265.30,226.95 270.12,237.63 274.00,242.00 C277.88,246.37 282.47,247.98 285.70,248.80 C288.93,249.62 290.50,246.73 293.40,246.90 C296.30,247.07 300.50,248.68 303.10,249.80 C305.70,250.92 307.05,250.38 309.00,253.60 C310.95,256.82 312.22,264.25 314.80,269.10 C317.38,273.95 320.88,281.18 324.50,282.70 C328.12,284.22 332.82,281.77 336.50,278.20 C340.18,274.63 343.78,268.07 346.60,261.30 C349.42,254.53 351.03,244.68 353.40,237.60 C355.77,230.52 358.60,225.48 360.80,218.80 C363.00,212.12 364.67,204.28 366.60,197.50 C368.53,190.72 370.78,182.78 372.40,178.10 C374.02,173.42 374.37,172.15 376.30,169.40 C378.23,166.65 381.10,164.02 384.00,161.60 C386.90,159.18 390.47,156.50 393.70,154.90 C396.93,153.30 400.17,152.00 403.40,152.00 C406.63,152.00 409.87,153.62 413.10,154.90 C416.33,156.18 419.57,158.42 422.80,159.70 C426.03,160.98 429.60,161.47 432.50,162.60 C435.40,163.73 437.95,164.23 440.20,166.50 C442.45,168.77 444.07,174.75 446.00,176.20 C447.93,177.65 449.22,176.02 451.80,175.20 C454.38,174.38 458.27,172.92 461.50,171.30 C464.73,169.68 468.30,167.27 471.20,165.50 C474.10,163.73 476.80,161.35 478.90,160.70 C481.00,160.05 482.18,159.02 483.80,161.60 C485.42,164.18 487.10,169.52 488.60,176.20 C490.10,182.88 491.13,196.17 492.80,201.70 C494.47,207.23 495.70,206.82 498.60,209.40 C501.50,211.98 506.97,214.28 510.20,217.20 C513.43,220.12 515.42,223.52 518.00,226.90 C520.58,230.28 522.80,233.47 525.70,237.50 C528.60,241.53 532.50,246.90 535.40,251.10 C538.30,255.30 540.52,259.32 543.10,262.70 C545.68,266.08 548.63,270.27 550.90,271.40 C553.17,272.53 554.35,270.95 556.70,269.50 C559.05,268.05 561.90,265.12 565.00,262.70 C568.10,260.28 571.70,257.03 575.30,255.00 C578.90,252.97 583.02,251.82 586.60,250.50 C590.18,249.18 593.78,247.77 596.80,247.10 C599.82,246.43 601.50,246.68 604.70,246.50 C607.90,246.32 613.00,246.18 616.00,246.00 C619.00,245.82 620.32,245.70 622.70,245.40 C625.08,245.10 628.43,244.98 630.30,244.20 C632.17,243.42 632.72,240.40 633.90,240.70 C635.08,241.00 635.63,244.53 637.40,246.00 C639.17,247.47 642.13,246.83 644.50,249.50 C646.87,252.17 649.97,256.67 651.60,262.00 C653.23,267.33 653.40,275.00 654.30,281.50 C655.20,288.00 655.97,294.48 657.00,301.00 C658.03,307.52 659.47,315.57 660.50,320.60 C661.53,325.63 662.40,328.53 663.20,331.20 C664.00,333.87 664.12,333.68 665.30,336.60 C666.48,339.52 668.62,345.00 670.30,348.70 C671.98,352.40 673.72,355.43 675.40,358.80 C677.08,362.17 679.05,363.87 680.40,368.90 C681.75,373.93 682.98,385.65 683.50,389.00" fill="none" stroke="#d6ae48" stroke-width="2" stroke-dasharray="3.4 2.5"/>
<path d="M61.00,271.10 C63.90,271.15 74.40,270.88 78.40,271.40 C82.40,271.92 82.62,272.93 85.00,274.20 C87.38,275.47 90.60,277.78 92.70,279.00 C94.80,280.22 95.67,281.67 97.60,281.50 C99.53,281.33 101.88,278.97 104.30,278.00 C106.72,277.03 109.52,276.02 112.10,275.70 C114.68,275.38 117.22,275.78 119.80,276.10 C122.38,276.42 124.70,277.43 127.60,277.60 C130.50,277.77 134.95,278.00 137.20,277.10 C139.45,276.20 139.80,275.27 141.10,272.20 C142.40,269.13 143.52,263.85 145.00,258.70 C146.48,253.55 148.30,246.52 150.00,241.30 C151.70,236.08 152.92,231.12 155.20,227.40 C157.48,223.68 160.30,220.68 163.70,219.00 C167.10,217.32 172.22,219.00 175.60,217.30 C178.98,215.60 180.33,212.48 184.00,208.80 C187.67,205.12 193.62,198.15 197.60,195.20 C201.58,192.25 204.90,192.32 207.90,191.10 C210.90,189.88 213.02,188.58 215.60,187.90 C218.18,187.22 220.38,187.22 223.40,187.00 C226.42,186.78 229.83,186.70 233.70,186.60 C237.57,186.50 243.80,186.28 246.60,186.40 C249.40,186.52 248.78,186.62 250.50,187.30 C252.22,187.98 254.53,188.68 256.90,190.50 C259.27,192.32 262.48,195.92 264.70,198.20 C266.92,200.48 268.15,203.03 270.20,204.20 C272.25,205.37 274.42,204.65 277.00,205.20 C279.58,205.75 283.32,207.53 285.70,207.50 C288.08,207.47 289.23,206.50 291.30,205.00 C293.37,203.50 295.47,200.67 298.10,198.50 C300.73,196.33 304.85,194.30 307.10,192.00 C309.35,189.70 309.72,188.45 311.60,184.70 C313.48,180.95 316.15,173.83 318.40,169.50 C320.65,165.17 323.17,161.37 325.10,158.70 C327.03,156.03 327.45,155.63 330.00,153.50 C332.55,151.37 337.38,148.30 340.40,145.90 C343.42,143.50 345.20,141.45 348.10,139.10 C351.00,136.75 355.03,133.20 357.80,131.80 C360.57,130.40 361.93,130.62 364.70,130.70 C367.47,130.78 371.50,132.12 374.40,132.30 C377.30,132.48 379.85,133.05 382.10,131.80 C384.35,130.55 385.97,126.77 387.90,124.80 C389.83,122.83 390.92,121.38 393.70,120.00 C396.48,118.62 401.17,116.83 404.60,116.50 C408.03,116.17 411.40,117.23 414.30,118.00 C417.20,118.77 419.42,120.27 422.00,121.10 C424.58,121.93 426.80,122.52 429.80,123.00 C432.80,123.48 436.97,123.05 440.00,124.00 C443.03,124.95 445.93,127.53 448.00,128.70 C450.07,129.87 450.80,130.67 452.40,131.00 C454.00,131.33 455.65,130.93 457.60,130.70 C459.55,130.47 461.88,130.22 464.10,129.60 C466.32,128.98 468.32,127.22 470.90,127.00 C473.48,126.78 477.42,127.72 479.60,128.30 C481.78,128.88 482.43,129.05 484.00,130.50 C485.57,131.95 487.50,134.67 489.00,137.00 C490.50,139.33 491.33,142.35 493.00,144.50 C494.67,146.65 496.72,148.18 499.00,149.90 C501.28,151.62 504.03,152.70 506.70,154.80 C509.37,156.90 512.80,160.50 515.00,162.50 C517.20,164.50 517.80,164.80 519.90,166.80 C522.00,168.80 524.70,171.92 527.60,174.50 C530.50,177.08 534.38,179.72 537.30,182.30 C540.22,184.88 542.65,187.25 545.10,190.00 C547.55,192.75 550.02,196.75 552.00,198.80 C553.98,200.85 555.33,201.43 557.00,202.30 C558.67,203.17 560.08,203.40 562.00,204.00 C563.92,204.60 565.90,205.12 568.50,205.90 C571.10,206.68 574.20,207.77 577.60,208.70 C581.00,209.63 585.13,210.47 588.90,211.50 C592.67,212.53 596.82,214.05 600.20,214.90 C603.58,215.75 606.20,216.32 609.20,216.60 C612.20,216.88 614.90,216.45 618.20,216.60 C621.50,216.75 625.98,216.63 629.00,217.50 C632.02,218.37 633.40,220.35 636.30,221.80 C639.20,223.25 643.95,224.75 646.40,226.20 C648.85,227.65 649.30,227.70 651.00,230.50 C652.70,233.30 654.12,237.75 656.60,243.00 C659.08,248.25 663.17,257.00 665.90,262.00 C668.63,267.00 670.90,269.43 673.00,273.00 C675.10,276.57 676.78,280.20 678.50,283.40 C680.22,286.60 682.50,290.73 683.30,292.20" fill="none" stroke="#3c5cd0" stroke-width="2"/>
<line x1="8" y1="37.8" x2="686" y2="37.8" stroke="#d44a48" stroke-width="2"/>
<line x1="8" y1="167.6" x2="686" y2="167.6" stroke="#b52b5e" stroke-width="2" stroke-dasharray="3 2.4"/>
<line x1="8" y1="377.4" x2="686" y2="377.4" stroke="#9050a6" stroke-width="2"/>
</g>
<g clip-path="url(#rc)">
<line x1="8" y1="462.2" x2="686" y2="462.2" stroke="#b0554f" stroke-width="1.4" stroke-dasharray="3 2.3"/>
<line x1="8" y1="504.6" x2="686" y2="504.6" stroke="#4a4444" stroke-width="1.4" stroke-dasharray="3 2.3"/>
<line x1="8" y1="547.0" x2="686" y2="547.0" stroke="#3a9a8e" stroke-width="1.4" stroke-dasharray="3 2.3"/>
<polyline points="61.47,497.1 65.64,500.4 69.82,501.0 74.00,499.6 78.18,501.6 82.36,507.8 86.53,510.1 90.71,515.5 94.89,528.7 99.07,508.5 103.25,488.4 107.43,491.9 111.61,498.1 115.78,504.9 119.96,502.9 124.14,508.2 128.32,510.1 132.50,501.6 136.68,503.9 140.85,481.6 145.03,448.7 149.21,465.2 153.39,462.3 157.57,468.1 161.75,485.5 165.92,495.0 170.10,499.1 174.28,501.0 178.46,496.2 182.64,486.5 186.81,475.8 190.99,486.5 195.17,489.4 199.35,490.0 203.53,496.2 207.71,490.0 211.89,492.7 216.06,493.3 220.24,498.1 224.42,500.0 228.60,499.1 232.78,499.6 236.96,497.1 241.13,497.1 245.31,499.1 249.49,507.8 253.67,511.6 257.85,514.6 262.02,524.8 266.20,523.3 270.38,541.0 274.56,510.7 278.74,502.9 282.92,514.6 287.10,512.0 291.27,497.1 295.45,490.7 299.63,486.5 303.81,481.6 307.99,483.0 312.17,471.0 316.34,458.4 320.52,465.2 324.70,472.0 328.88,479.7 333.06,478.7 337.24,484.5 341.41,488.4 345.59,479.7 349.77,479.7 353.95,480.7 358.13,480.7 362.31,490.3 366.48,499.1 370.66,503.9 374.84,504.5 379.02,507.8 383.20,497.1 387.38,467.1 391.55,475.8 395.73,486.5 399.91,490.3 404.09,493.8 408.27,502.9 412.45,503.9 416.62,506.8 420.80,513.6 424.98,511.6 429.16,509.7 433.34,509.3 437.52,502.0 441.69,508.7 445.87,533.0 450.05,509.7 454.23,509.3 458.41,498.1 462.59,502.9 466.76,497.1 470.94,491.9 475.12,506.8 479.30,512.0 483.48,506.8 487.66,527.1 491.83,548.4 496.01,519.4 500.19,513.2 504.37,512.0 508.55,516.5 512.73,523.3 516.90,517.8 521.08,522.3 525.26,530.0 529.44,521.7 533.62,521.3 537.80,520.9 541.97,529.5 546.15,530.0 550.33,537.8 554.51,525.2 558.69,517.5 562.87,508.7 567.04,513.2 571.22,517.1 575.40,515.5 579.58,516.5 583.76,514.0 587.94,515.5 592.11,517.5 596.29,520.0 600.47,518.2 604.65,518.2 608.83,514.4 613.00,509.6 617.18,504.9 621.36,529.3 625.54,499.5 629.72,507.6 633.90,511.7 638.08,528.6 642.25,520.8 646.43,513.0 650.61,525.9 654.79,541.0 658.97,556.3 663.15,543.0 667.32,538.3 671.50,538.0 675.68,539.0 679.86,542.0 684.04,543.0" fill="none" stroke="#2a8bc0" stroke-width="1.7" stroke-linejoin="round"/>
</g>
<text x="694" y="430.2" font-size="9" fill="#363636" stroke="#363636" stroke-width="0.12">4.500,00</text>
<text x="694" y="404.1" font-size="9" fill="#363636" stroke="#363636" stroke-width="0.12">4.525,00</text>
<text x="694" y="351.9" font-size="9" fill="#363636" stroke="#363636" stroke-width="0.12">4.575,00</text>
<text x="694" y="325.8" font-size="9" fill="#363636" stroke="#363636" stroke-width="0.12">4.600,00</text>
<text x="694" y="299.7" font-size="9" fill="#363636" stroke="#363636" stroke-width="0.12">4.625,00</text>
<text x="694" y="273.6" font-size="9" fill="#363636" stroke="#363636" stroke-width="0.12">4.650,00</text>
<text x="694" y="247.5" font-size="9" fill="#363636" stroke="#363636" stroke-width="0.12">4.675,00</text>
<text x="694" y="221.4" font-size="9" fill="#363636" stroke="#363636" stroke-width="0.12">4.700,00</text>
<text x="694" y="195.3" font-size="9" fill="#363636" stroke="#363636" stroke-width="0.12">4.725,00</text>
<text x="694" y="143.1" font-size="9" fill="#363636" stroke="#363636" stroke-width="0.12">4.775,00</text>
<text x="694" y="117.0" font-size="9" fill="#363636" stroke="#363636" stroke-width="0.12">4.800,00</text>
<text x="694" y="90.9" font-size="9" fill="#363636" stroke="#363636" stroke-width="0.12">4.825,00</text>
<text x="694" y="64.8" font-size="9" fill="#363636" stroke="#363636" stroke-width="0.12">4.850,00</text>
<text x="694" y="12.6" font-size="9" fill="#363636" stroke="#363636" stroke-width="0.12">4.900,00</text>
<g clip-path="url(#rac)">
<text x="694" y="443.6" font-size="9" fill="#363636" stroke="#363636" stroke-width="0.12">80,00</text>
<text x="694" y="486.0" font-size="9" fill="#363636" stroke="#363636" stroke-width="0.12">60,00</text>
<text x="694" y="528.4" font-size="9" fill="#363636" stroke="#363636" stroke-width="0.12">40,00</text>
<text x="694" y="570.8" font-size="9" fill="#363636" stroke="#363636" stroke-width="0.12">20,00</text>
</g>
<rect x="686" y="359.5" width="47" height="12.5" fill="#ef5350"/>
<line x1="686" y1="365.5" x2="690" y2="365.5" stroke="#fff" stroke-width="1" opacity="0.8"/>
<text x="694" y="368.7" font-size="9" fill="#fff">4.559,82</text>
<rect x="634.8" y="31.8" width="50.7" height="12.5" fill="#ec3f3a"/>
<text x="639.7" y="41.2" font-size="9.2" fill="#fff" textLength="41.1" lengthAdjust="spacingAndGlyphs">Resistance</text>
<rect x="686" y="31.8" width="47" height="12.5" fill="#ec3f3a"/>
<line x1="686" y1="37.8" x2="690" y2="37.8" stroke="#fff" stroke-width="1" opacity="0.8"/>
<text x="694" y="41.0" font-size="9" fill="#fff">4.872,86</text>
<rect x="638.4" y="161.6" width="47.1" height="12.5" fill="#df1f62"/>
<text x="642.8" y="171.0" font-size="9.2" fill="#fff" textLength="38.1" lengthAdjust="spacingAndGlyphs">Fibonacci</text>
<rect x="686" y="161.6" width="47" height="12.5" fill="#df1f62"/>
<line x1="686" y1="167.6" x2="690" y2="167.6" stroke="#fff" stroke-width="1" opacity="0.8"/>
<text x="694" y="170.8" font-size="9" fill="#fff">4.748,48</text>
<rect x="646.0" y="372.0" width="39.5" height="12.5" fill="#9427b0"/>
<text x="650.0" y="381.4" font-size="9.2" fill="#fff" textLength="30.5" lengthAdjust="spacingAndGlyphs">Support</text>
<rect x="686" y="372.0" width="47" height="12.5" fill="#9427b0"/>
<line x1="686" y1="378.0" x2="690" y2="378.0" stroke="#fff" stroke-width="1" opacity="0.8"/>
<text x="694" y="381.2" font-size="9" fill="#fff">4.547,26</text>
<rect x="637.0" y="456.2" width="48.5" height="12.5" fill="#e5534f"/>
<text x="640.9" y="465.6" font-size="9.2" fill="#fff" textLength="39.9" lengthAdjust="spacingAndGlyphs">Überkauft</text>
<rect x="686" y="456.2" width="34.8" height="12.5" fill="#e5534f"/>
<line x1="686" y1="462.2" x2="690" y2="462.2" stroke="#fff" stroke-width="1" opacity="0.8"/>
<text x="694" y="465.4" font-size="9" fill="#fff">70,00</text>
<rect x="667.9" y="498.6" width="17.6" height="12.5" fill="#787b86"/>
<text x="672.0" y="508.0" font-size="9.2" fill="#fff" textLength="9" lengthAdjust="spacingAndGlyphs">50</text>
<rect x="686" y="498.6" width="34.8" height="12.5" fill="#787b86"/>
<line x1="686" y1="504.6" x2="690" y2="504.6" stroke="#fff" stroke-width="1" opacity="0.8"/>
<text x="694" y="507.8" font-size="9" fill="#fff">50,00</text>
<rect x="624.6" y="541.0" width="60.9" height="12.5" fill="#26a69a"/>
<text x="628.6" y="550.4" font-size="9.2" fill="#fff" textLength="51.9" lengthAdjust="spacingAndGlyphs">Überverkauft</text>
<rect x="686" y="541.0" width="34.8" height="12.5" fill="#26a69a"/>
<line x1="686" y1="547.0" x2="690" y2="547.0" stroke="#fff" stroke-width="1" opacity="0.8"/>
<text x="694" y="550.2" font-size="9" fill="#fff">30,00</text>
<text x="74.0" y="583.6" font-size="8.5" font-weight="bold" fill="#363636" text-anchor="middle">5</text>
<text x="149.2" y="583.6" font-size="8.5" font-weight="bold" fill="#363636" text-anchor="middle">8</text>
<text x="224.4" y="583.6" font-size="8.5" font-weight="bold" fill="#363636" text-anchor="middle">11</text>
<text x="299.6" y="583.6" font-size="8.5" font-weight="bold" fill="#363636" text-anchor="middle">14</text>
<text x="374.8" y="583.6" font-size="8.5" font-weight="bold" fill="#363636" text-anchor="middle">17</text>
<text x="450.0" y="583.6" font-size="8.5" font-weight="bold" fill="#363636" text-anchor="middle">20</text>
<text x="525.2" y="583.6" font-size="8.5" font-weight="bold" fill="#363636" text-anchor="middle">23</text>
<text x="600.4" y="583.6" font-size="8.5" font-weight="bold" fill="#363636" text-anchor="middle">26</text>
<text x="675.6" y="583.6" font-size="8.5" font-weight="bold" fill="#363636" text-anchor="middle">29</text>
<text x="40.8" y="613.7" font-size="10.3" fill="#333">Candlesticks</text>
<line x1="117.4" y1="610.5" x2="141.2" y2="610.5" stroke="#3c5cd0" stroke-width="1.5"/>
<text x="147.7" y="613.7" font-size="10.3" fill="#333">EMA(20)</text>
<line x1="206" y1="610.5" x2="229.8" y2="610.5" stroke="#d6ae48" stroke-width="1.2" stroke-dasharray="1.5 1.5"/>
<text x="236.7" y="613.7" font-size="10.3" fill="#333">Bollinger Bands</text>
<line x1="326.7" y1="610.5" x2="351.4" y2="610.5" stroke="#b52b5e" stroke-width="1.2" stroke-dasharray="1.5 1.5"/>
<text x="357.4" y="613.7" font-size="10.3" fill="#333">Fibonacci</text>
<line x1="420.3" y1="610.5" x2="442.7" y2="610.5" stroke="#2a8bc0" stroke-width="1.5"/>
<text x="449.6" y="613.7" font-size="10.3" fill="#333">RSI(14)</text>
<text x="534.1" y="613.7" font-size="10.3" fill="#333">Support</text>
<text x="618.3" y="613.7" font-size="10.3" fill="#333">Resistance</text>
</svg></body></html>
